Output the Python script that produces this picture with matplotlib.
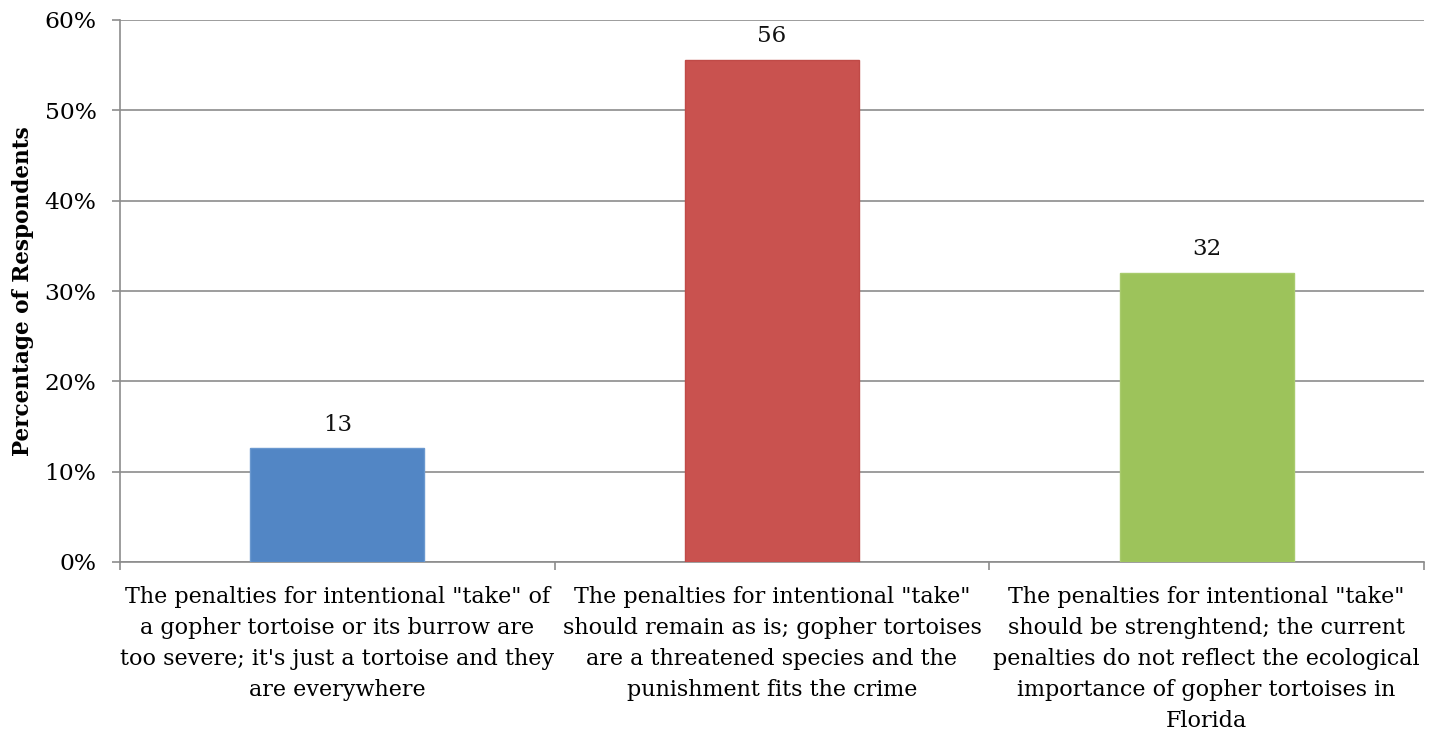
import matplotlib
matplotlib.use("Agg")
import matplotlib.pyplot as plt
from matplotlib.ticker import FixedLocator, PercentFormatter

categories = [
    'The penalties for intentional "take" of\na gopher tortoise or its burrow are\ntoo severe; it\'s just a tortoise and they\nare everywhere',
    'The penalties for intentional "take"\nshould remain as is; gopher tortoises\nare a threatened species and the\npunishment fits the crime',
    'The penalties for intentional "take"\nshould be strenghtend; the current\npenalties do not reflect the ecological\nimportance of gopher tortoises in\nFlorida',
]
percentages = [12.6, 55.6, 32.0]
bar_colors = ["#5286C5", "#C9524F", "#9DC35B"]
edge_colors = ["#6A98CF", "#C04A47", "#A8CB6C"]
y_ticks = [0, 10, 20, 30, 40, 50, 60]
y_label = "Percentage of Respondents"

plt.rcParams["font.family"] = ["DejaVu Serif"]

fig = plt.figure(figsize=(14.37, 7.34), dpi=100)
ax = fig.add_axes([120 / 1437, 1 - 562 / 734, (1424 - 120) / 1437, (562 - 20) / 734])

x = list(range(len(categories)))
bars = ax.bar(x, percentages, width=0.4, color=bar_colors, edgecolor=edge_colors,
              linewidth=1.0, zorder=3)

for rect, val in zip(bars, percentages):
    ax.annotate(f"{val:.0f}", (rect.get_x() + rect.get_width() / 2, rect.get_height()),
                xytext=(0, 9), textcoords="offset points", ha="center", va="bottom",
                fontsize=16.5, color="#111111")

ax.set_xlim(-0.5, 2.5)
ax.set_ylim(0, 60)
ax.yaxis.set_major_locator(FixedLocator(y_ticks))
ax.yaxis.set_major_formatter(PercentFormatter(decimals=0))
ax.grid(axis="y", color="#8C8C8C", linewidth=1.2, zorder=0)

ax.set_xticks(x)
ax.set_xticklabels(categories, fontsize=16, linespacing=1.53)
ax.set_xticks([-0.5, 0.5, 1.5, 2.5], minor=True)
ax.tick_params(axis="x", which="major", length=0, pad=17)
ax.tick_params(axis="x", which="minor", length=6, width=1.2, color="#8C8C8C")
ax.tick_params(axis="y", length=6, width=1.2, color="#8C8C8C", labelsize=16.8, pad=11)

for side in ("top", "right"):
    ax.spines[side].set_visible(False)
for side in ("left", "bottom"):
    ax.spines[side].set_color("#8C8C8C")
    ax.spines[side].set_linewidth(1.2)

ax.set_ylabel(y_label, fontsize=15.6, fontweight="bold")
ax.yaxis.set_label_coords((34 - 120) / 1304, 0.5)

fig.savefig("out.png", dpi=100, facecolor="white")
